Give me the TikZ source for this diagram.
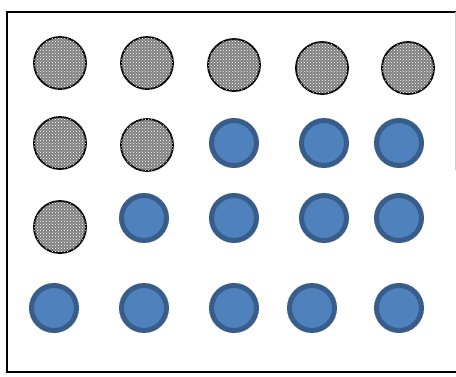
\documentclass[tikz,border=0pt]{standalone}
\usetikzlibrary{patterns}
\definecolor{bluefill}{HTML}{4F81BD}
\definecolor{blueedge}{HTML}{385D8A}
\tikzset{
  sketchdot/.style={circle, minimum size=52pt, inner sep=0pt, draw=black, line width=1.8pt,
    fill=black!50, postaction={pattern=crosshatch dots, pattern color=white}},
  bluedot/.style={circle, minimum size=45pt, inner sep=0pt, draw=blueedge, line width=5pt, fill=bluefill},
  frameline/.style={line width=1.2pt, black}
}
\begin{document}
\begin{tikzpicture}[x=1pt,y=-1pt]
\useasboundingbox (0,0) rectangle (456,376);
\fill[white] (0,0) rectangle (456,376);
\coordinate (tl) at (7,12);
\coordinate (tr) at (456,12);
\coordinate (bl) at (7,372);
\coordinate (br) at (456,372);
\draw[frameline] (tr) -- (tl) -- (bl) -- (br);
\draw[black!20, line width=0.5pt] (455,12) -- (455,170);
% row 1
\node[sketchdot] (r1c1) at (60,63) {};
\node[sketchdot] (r1c2) at (147,63) {};
\node[sketchdot] (r1c3) at (234,65) {};
\node[sketchdot] (r1c4) at (322,68) {};
\node[sketchdot] (r1c5) at (408,68) {};
% row 2
\node[sketchdot] (r2c1) at (60,143) {};
\node[sketchdot] (r2c2) at (147,145) {};
\node[bluedot] (r2c3) at (234,143) {};
\node[bluedot] (r2c4) at (324,143) {};
\node[bluedot] (r2c5) at (399,143) {};
% row 3
\node[sketchdot] (r3c1) at (60,227) {};
\node[bluedot] (r3c2) at (144,218) {};
\node[bluedot] (r3c3) at (234,218) {};
\node[bluedot] (r3c4) at (324,218) {};
\node[bluedot] (r3c5) at (399,218) {};
% row 4
\node[bluedot] (r4c1) at (54,308) {};
\node[bluedot] (r4c2) at (144,308) {};
\node[bluedot] (r4c3) at (234,308) {};
\node[bluedot] (r4c4) at (312,308) {};
\node[bluedot] (r4c5) at (399,308) {};
\end{tikzpicture}
\end{document}
